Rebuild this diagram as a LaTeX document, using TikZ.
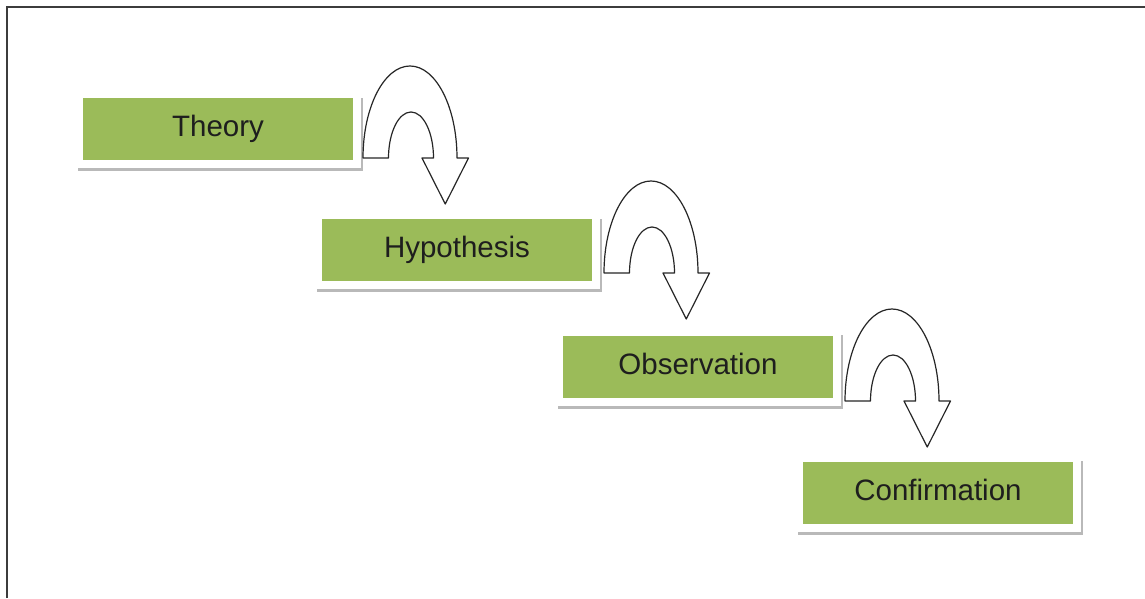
\documentclass[tikz,border=0pt]{standalone}
\usepackage{fontspec}
\setmainfont{Liberation Sans}
\usetikzlibrary{backgrounds}
\definecolor{boxgreen}{RGB}{155,187,89}
\definecolor{framegray}{RGB}{60,60,60}
\definecolor{txt}{RGB}{30,30,30}
\tikzset{
  stepbox/.style={fill=boxgreen, draw=none, minimum width=270pt, minimum height=62pt,
    inner sep=0pt, text height=21pt, text depth=6pt, text=txt,
    font=\fontsize{29.5}{34}\selectfont},
  panelwhite/.style={fill=white, draw=none},
  panelshadow/.style={fill=gray!55, draw=none},
  uturnshape/.style={draw=black!85, line width=1.2pt, fill=white, line join=round},
  pics/uturn/.style={code={
    \draw[uturnshape] (0,0) arc[start angle=180, end angle=0, x radius=47pt, y radius=92pt]
      -- (105.5,0) -- (82.25,-46) -- (59,0) -- (70.5,0)
      arc[start angle=0, end angle=180, x radius=22.5pt, y radius=46pt] -- cycle;
  }}
}
\begin{document}
\begin{tikzpicture}[x=1pt, y=1pt]
\useasboundingbox (0,0) rectangle (1145,598);
% frame
\draw[framegray, line width=2.5pt] (7,0) -- (7,591) -- (1145,591);
% boxes (green)
\node[stepbox] (theory) at (218,469) {Theory};
\node[stepbox] (hyp) at (457,348) {Hypothesis};
\node[stepbox] (obs) at (698,231.5) {Observation};
\node[stepbox] (conf) at (938,105.5) {Confirmation};
% panels behind boxes
\begin{scope}[on background layer]
  \foreach \n in {theory,hyp,obs,conf}{
    \fill[panelshadow] ([shift={(-5,-11)}]\n.south west) rectangle ([shift={(10,0)}]\n.north east);
    \fill[panelwhite] ([shift={(-6,-8)}]\n.south west) rectangle ([shift={(8,2)}]\n.north east);
  }
\end{scope}
% u-turn arrows
\coordinate (a1) at (363,440);
\coordinate (a2) at (604,325);
\coordinate (a3) at (845,197);
\pic at (a1) {uturn};
\pic at (a2) {uturn};
\pic at (a3) {uturn};
\end{tikzpicture}
\end{document}
